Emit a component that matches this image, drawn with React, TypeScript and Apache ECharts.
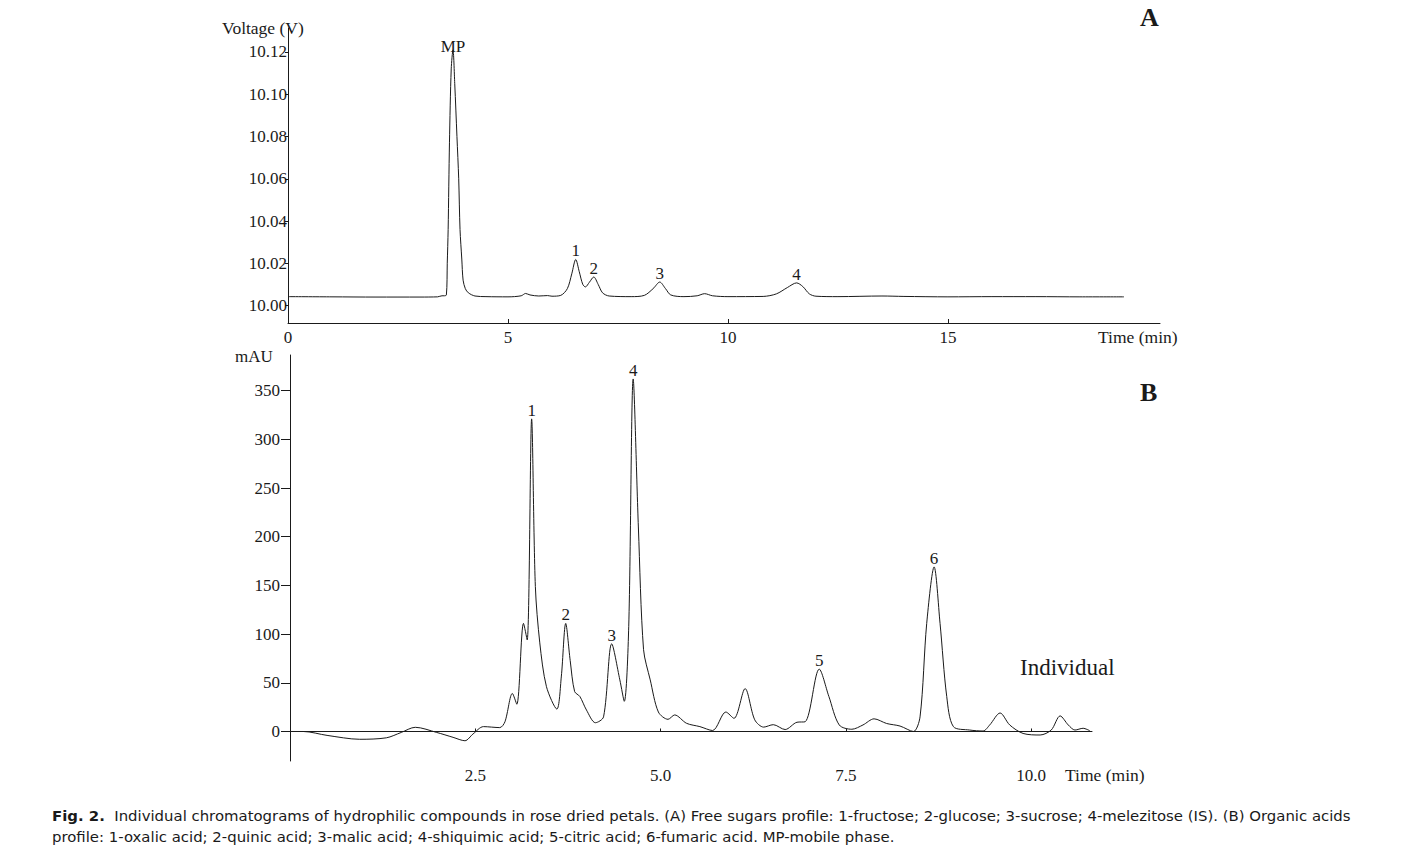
import React, { useEffect, useRef } from "react";
import * as echarts from "echarts";

// Panel A: free sugars (time min, voltage V)
const A_TIME = [0, 1, 2, 3, 3.4, 3.5, 3.55, 3.6, 3.62, 3.64, 3.67, 3.71, 3.75, 3.79, 3.84, 3.88, 3.91, 3.95, 3.98, 4.03, 4.1, 4.25, 4.5, 5.0, 5.3, 5.4, 5.5, 5.7, 5.9, 6.0, 6.2, 6.35, 6.45, 6.54, 6.62, 6.7, 6.76, 6.85, 6.95, 7.05, 7.15, 7.3, 7.8, 8.1, 8.3, 8.45, 8.58, 8.7, 9.0, 9.3, 9.47, 9.65, 10.0, 10.8, 11.1, 11.35, 11.56, 11.7, 11.85, 12.0, 12.5, 13.5, 14.0, 15, 16, 17, 18, 19];
const A_VOLT = [10.0042, 10.0041, 10.004, 10.004, 10.0041, 10.0046, 10.0046, 10.005, 10.02, 10.036, 10.077, 10.112, 10.121, 10.105, 10.08, 10.06, 10.036, 10.022, 10.012, 10.008, 10.006, 10.0045, 10.0042, 10.0041, 10.0046, 10.0057, 10.005, 10.0045, 10.0047, 10.0044, 10.0048, 10.008, 10.015, 10.0218, 10.016, 10.01, 10.0088, 10.011, 10.0135, 10.01, 10.006, 10.0045, 10.0042, 10.0048, 10.008, 10.0111, 10.008, 10.005, 10.0042, 10.0046, 10.0056, 10.0046, 10.0042, 10.0043, 10.0055, 10.0085, 10.0107, 10.009, 10.0055, 10.0044, 10.0042, 10.0045, 10.0043, 10.0041, 10.0042, 10.0042, 10.0041, 10.0041];
const A_PEAK_NAMES = ["MP", "1", "2", "3", "4"];
const A_PEAK_TIME = [3.75, 6.54, 6.95, 8.45, 11.56];
const A_PEAK_VOLT = [10.121, 10.0218, 10.0135, 10.0111, 10.0107];
const A_X_TICKS = [0, 5, 10, 15];
const A_Y_TICKS = [10.0, 10.02, 10.04, 10.06, 10.08, 10.1, 10.12];

// Panel B: organic acids (time min, mAU)
const B_TIME = [0, 0.18, 0.5, 0.94, 1.3, 1.5, 1.69, 1.98, 2.2, 2.36, 2.47, 2.61, 2.83, 2.9, 3.0, 3.06, 3.15, 3.2, 3.26, 3.31, 3.37, 3.46, 3.6, 3.66, 3.72, 3.78, 3.84, 3.91, 4.0, 4.12, 4.23, 4.34, 4.45, 4.51, 4.57, 4.63, 4.7, 4.77, 4.86, 4.97, 5.1, 5.19, 5.35, 5.53, 5.7, 5.88, 5.99, 6.14, 6.27, 6.39, 6.52, 6.68, 6.84, 6.95, 7.14, 7.27, 7.41, 7.58, 7.73, 7.88, 8.05, 8.23, 8.41, 8.5, 8.59, 8.69, 8.77, 8.86, 8.95, 9.17, 9.35, 9.44, 9.58, 9.71, 9.89, 10.12, 10.27, 10.39, 10.5, 10.59, 10.7, 10.79];
const B_MAU = [0, 0, -4, -8, -6.5, -1, 4.3, -1, -6, -9.5, -2.5, 5, 4, 10, 39, 28, 111, 94, 321, 149, 91, 46, 23, 56, 111, 73, 41, 36, 22, 9, 15, 90, 53, 31, 108, 362, 210, 84, 53, 20, 12.5, 17, 8.4, 5, 1, 20, 13.5, 44, 12, 4.5, 7, 2, 9.5, 10, 64, 36, 6.7, 2.3, 6.7, 13, 8.2, 5.6, 0, 15, 111, 169, 111, 36, 5, 1.5, 0.5, 6.7, 19, 6.7, -2, -3.6, 1.5, 16, 6.7, 1.5, 3.3, 0.8];
const B_PEAK_NAMES = ["1", "2", "3", "4", "5", "6"];
const B_PEAK_TIME = [3.26, 3.72, 4.34, 4.63, 7.14, 8.69];
const B_PEAK_MAU = [321, 111, 90, 362, 64, 169];
const B_X_TICKS = [2.5, 5.0, 7.5, 10.0];
const B_Y_TICKS = [0, 50, 100, 150, 200, 250, 300, 350];

const CAPTION_1 = "Individual chromatograms of hydrophilic compounds in rose dried petals. (A) Free sugars profile: 1-fructose; 2-glucose; 3-sucrose; 4-melezitose (IS). (B) Organic acids";
const CAPTION_2 = "profile: 1-oxalic acid; 2-quinic acid; 3-malic acid; 4-shiquimic acid; 5-citric acid; 6-fumaric acid. MP-mobile phase.";

const SERIF = "'Liberation Serif', 'DejaVu Serif', serif";
const SANS = "'DejaVu Sans', sans-serif";
const INK = "#1a1a1a";

export default function App() {
  const ref = useRef<HTMLDivElement>(null);
  useEffect(() => {
    if (!ref.current) return;
    const chart = echarts.init(ref.current, undefined, { renderer: "svg" });
    const aData = A_TIME.map((t, i) => [t, A_VOLT[i]]);
    const bData = B_TIME.map((t, i) => [t, B_MAU[i]]);
    const labelStyle = { show: true, color: INK, fontFamily: SERIF, fontSize: 17, position: "top" as const, distance: 0 };
    const tickLabel = { color: INK, fontFamily: SERIF, fontSize: 17 };
    chart.setOption({
      animation: false,
      backgroundColor: "#ffffff",
      grid: [
        { left: 288, top: 28, width: 872, height: 295, containLabel: false },
        { left: 290, top: 355, width: 802, height: 406, containLabel: false },
      ],
      xAxis: [
        {
          type: "value", gridIndex: 0, min: 0, max: 19.82,
          axisLine: { lineStyle: { color: INK, width: 1 } },
          axisTick: { inside: true, length: 4, customValues: A_X_TICKS, lineStyle: { color: INK } },
          axisLabel: { ...tickLabel, margin: 6, customValues: A_X_TICKS, formatter: (v: number) => String(Math.round(v)) },
          splitLine: { show: false },
        },
        {
          type: "value", gridIndex: 1, min: 0, max: 10.82,
          axisLine: { lineStyle: { color: INK, width: 1 } },
          axisTick: { inside: true, length: 3, customValues: B_X_TICKS, lineStyle: { color: INK } },
          axisLabel: { ...tickLabel, margin: 6, customValues: B_X_TICKS, formatter: (v: number) => v.toFixed(1) },
          splitLine: { show: false },
        },
      ],
      yAxis: [
        {
          type: "value", gridIndex: 0, min: 9.99172, max: 10.13136,
          axisLine: { show: true, lineStyle: { color: INK, width: 1 } },
          axisTick: { show: true, length: 3, customValues: A_Y_TICKS, lineStyle: { color: INK } },
          axisLabel: { ...tickLabel, margin: 1, customValues: A_Y_TICKS, formatter: (v: number) => v.toFixed(2) },
          splitLine: { show: false },
        },
        {
          type: "value", gridIndex: 1, min: -30.3, max: 386.6,
          axisLine: { show: true, lineStyle: { color: INK, width: 1 } },
          axisTick: { show: true, length: 9, customValues: B_Y_TICKS, lineStyle: { color: INK } },
          axisLabel: { ...tickLabel, margin: 10, customValues: B_Y_TICKS, formatter: (v: number) => String(Math.round(v)) },
          splitLine: { show: false },
        },
      ],
      series: [
        {
          type: "line", xAxisIndex: 0, yAxisIndex: 0, data: aData, showSymbol: false, smooth: 0.3,
          lineStyle: { color: INK, width: 1 }, silent: true,
          markPoint: {
            symbol: "rect", symbolSize: 0, silent: true,
            data: A_PEAK_NAMES.map((n, i) => ({
              coord: [A_PEAK_TIME[i], A_PEAK_VOLT[i]], value: n,
              label: { ...labelStyle, distance: n === "MP" ? -5 : 0, formatter: n },
            })),
          },
        },
        {
          type: "line", xAxisIndex: 1, yAxisIndex: 1, data: bData, showSymbol: false, smooth: 0.3,
          lineStyle: { color: INK, width: 1 }, silent: true,
          markPoint: {
            symbol: "rect", symbolSize: 0, silent: true,
            data: B_PEAK_NAMES.map((n, i) => ({
              coord: [B_PEAK_TIME[i], B_PEAK_MAU[i]], value: n,
              label: { ...labelStyle, formatter: n },
            })),
          },
        },
      ],
      graphic: [
        { type: "text", left: 222, top: 19, style: { text: "Voltage (V)", fill: INK, font: `17.5px ${SERIF}` } },
        { type: "text", left: 1098, top: 328, style: { text: "Time (min)", fill: INK, font: `17.5px ${SERIF}` } },
        { type: "text", left: 235, top: 348, style: { text: "mAU", fill: INK, font: `17px ${SERIF}` } },
        { type: "text", left: 1065, top: 766, style: { text: "Time (min)", fill: INK, font: `17.5px ${SERIF}` } },
        { type: "text", left: 1020, top: 656, style: { text: "Individual", fill: INK, font: `23px ${SERIF}` } },
        { type: "text", left: 1140, top: 4, style: { text: "A", fill: INK, font: `bold 26px ${SERIF}` } },
        { type: "text", left: 1140, top: 379, style: { text: "B", fill: INK, font: `bold 26px ${SERIF}` } },
        {
          type: "text", left: 52, top: 808,
          style: {
            text: "{b|Fig. 2.}  " + CAPTION_1, fill: INK, font: `14.9px ${SANS}`,
            rich: { b: { fontWeight: "bold", fontFamily: SANS, fontSize: 14.9, fill: INK } },
          },
        },
        { type: "text", left: 52, top: 829, style: { text: CAPTION_2, fill: INK, font: `14.9px ${SANS}` } },
      ],
    });
    return () => chart.dispose();
  }, []);
  return <div ref={ref} style={{ position: "absolute", left: 0, top: 0, width: 1420, height: 863 }} />;
}
